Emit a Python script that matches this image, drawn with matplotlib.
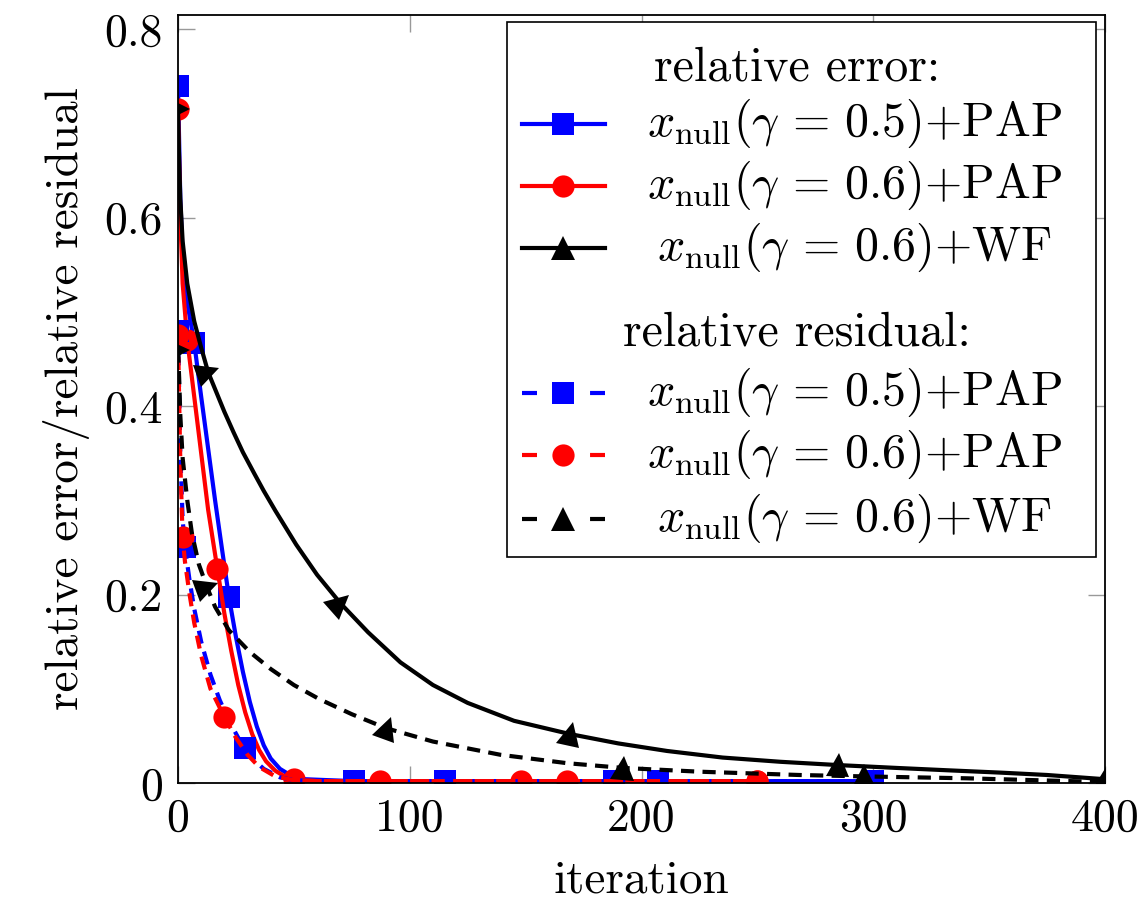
import matplotlib
matplotlib.use("Agg")
import matplotlib.pyplot as plt
import numpy as np
from matplotlib.markers import MarkerStyle
from matplotlib.transforms import Affine2D
from matplotlib.lines import Line2D
from matplotlib.patches import Rectangle

plt.rcParams["font.family"] = "serif"
plt.rcParams["font.serif"] = ["cmr10"]
plt.rcParams["mathtext.fontset"] = "cm"
plt.rcParams["axes.formatter.use_mathtext"] = True
plt.rcParams["lines.scale_dashes"] = False

# relative error, gamma=0.5 + PAP
it_err_05 = [0, 1, 2, 4, 7, 10, 13, 16, 19, 22, 25, 28, 31, 34, 37, 40, 44, 48, 55, 65, 76, 100, 150, 188, 250, 300]
err_05 = [0.74, 0.62, 0.56, 0.51, 0.467, 0.41, 0.355, 0.30, 0.248, 0.197, 0.155, 0.118, 0.086, 0.060, 0.040,
          0.026, 0.015, 0.009, 0.004, 0.003, 0.002, 0.002, 0.002, 0.002, 0.002, 0.002]
mk_err_05 = [0, 4, 9, 20, 23, 25]

# relative error, gamma=0.6 + PAP
it_err_06 = [0, 1, 2, 4, 7, 10, 13, 17, 20, 23, 26, 29, 32, 35, 38, 42, 46, 50, 60, 87, 120, 148, 200, 250]
err_06 = [0.715, 0.60, 0.53, 0.47, 0.41, 0.35, 0.29, 0.227, 0.18, 0.14, 0.104, 0.075, 0.052, 0.035, 0.023,
          0.013, 0.007, 0.004, 0.002, 0.002, 0.002, 0.002, 0.002, 0.002]
mk_err_06 = [0, 3, 7, 17, 21, 23]

# relative error, gamma=0.6 + WF
it_err_wf = [0, 0.5, 1, 2, 4, 7, 10, 13, 17, 20, 24, 28, 33, 37, 42, 51, 60, 70, 82, 96, 110, 125, 145, 169,
             190, 211, 235, 260, 285, 310, 332, 355, 375, 400]
err_wf = [0.715, 0.66, 0.62, 0.575, 0.53, 0.49, 0.462, 0.436, 0.412, 0.394, 0.372, 0.351, 0.328, 0.310, 0.289,
          0.253, 0.221, 0.191, 0.160, 0.128, 0.104, 0.085, 0.066, 0.052, 0.042, 0.034, 0.027, 0.0225, 0.019,
          0.016, 0.0135, 0.011, 0.0085, 0.004]
mk_err_wf = [0, 7, 17, 23, 28, 33]

# relative residual, gamma=0.5 + PAP
it_res_05 = [0, 1, 2, 3, 5, 7, 10, 14, 18, 22, 26, 29, 33, 37, 44, 50, 60, 115, 150, 207, 250, 300]
res_05 = [0.48, 0.35, 0.28, 0.25, 0.215, 0.185, 0.15, 0.115, 0.088, 0.066, 0.048, 0.037, 0.024, 0.015,
          0.006, 0.003, 0.002, 0.002, 0.002, 0.002, 0.002, 0.002]
mk_res_05 = [0, 3, 11, 17, 19, 21]

# relative residual, gamma=0.6 + PAP
it_res_06 = [0, 1, 2, 3, 5, 7, 10, 14, 20, 25, 30, 35, 42, 50, 60, 87, 120, 168, 200, 250]
res_06 = [0.475, 0.34, 0.261, 0.235, 0.20, 0.17, 0.135, 0.10, 0.07, 0.048, 0.03, 0.017, 0.007, 0.003,
          0.002, 0.002, 0.002, 0.002, 0.002, 0.002]
mk_res_06 = [0, 2, 8, 15, 17, 19]

# relative residual, gamma=0.6 + WF
it_res_wf = [0, 0.5, 1, 2, 4, 6, 9, 12.5, 16, 22, 31, 40, 50, 61, 75, 90, 110, 139, 168, 192, 225, 268,
             296, 340, 400]
res_wf = [0.46, 0.43, 0.39, 0.345, 0.30, 0.265, 0.232, 0.208, 0.187, 0.162, 0.139, 0.121, 0.104, 0.089,
          0.073, 0.058, 0.044, 0.030, 0.021, 0.016, 0.012, 0.0085, 0.007, 0.005, 0.001]
mk_res_wf = [0, 7, 15, 19, 22, 24]

xticks = [0, 100, 200, 300, 400]
xticklabels = ["0", "100", "200", "300", "400"]
yticks = [0, 0.2, 0.4, 0.6, 0.8]
yticklabels = ["0", "0.2", "0.4", "0.6", "0.8"]

labels = [r"$x_{\mathrm{null}}(\gamma\,=\,0.5)$+PAP",
          r"$x_{\mathrm{null}}(\gamma\,=\,0.6)$+PAP",
          r"$x_{\mathrm{null}}(\gamma\,=\,0.6)$+WF"]

W, H = 1143, 902
fig = plt.figure(figsize=(W / 100, H / 100), dpi=100)
ax = fig.add_axes([178 / W, 1 - 783 / H, 927 / W, 768 / H])
ax.set_xlim(0, 400)
ax.set_ylim(0, 0.815)

LW = 3.0
DASH = (9.5, 6.0)
blue, red, black = "#0000ff", "#ff0000", "#000000"


def draw(x, y, color, dashed, marker, idx, ms):
    ls = "--" if dashed else "-"
    line, = ax.plot(x, y, color=color, lw=LW, ls=ls, solid_capstyle="round")
    if dashed:
        line.set_dashes(DASH)
    if marker != "^":
        ax.plot([x[i] for i in idx], [y[i] for i in idx], ls="none", marker=marker,
                ms=ms, color=color, mec=color, mew=0)
        return
    # triangles turned with the curve
    pts = ax.transData.transform(np.column_stack([x, y]))
    n = len(x)
    for i in idx:
        a, b = max(i - 1, 0), min(i + 1, n - 1)
        d = pts[b] - pts[a]
        ang = np.degrees(np.arctan2(d[1], d[0]))
        m = MarkerStyle("^", transform=Affine2D().rotate_deg(ang))
        ax.plot([x[i]], [y[i]], ls="none", marker=m, ms=ms, color=color, mec=color, mew=0)


draw(it_err_05, err_05, blue, False, "s", mk_err_05, 16)
draw(it_err_06, err_06, red, False, "o", mk_err_06, 16)
draw(it_err_wf, err_wf, black, False, "^", mk_err_wf, 17)
draw(it_res_05, res_05, blue, True, "s", mk_res_05, 16)
draw(it_res_06, res_06, red, True, "o", mk_res_06, 16)
draw(it_res_wf, res_wf, black, True, "^", mk_res_wf, 17)

ax.set_xticks(xticks)
ax.set_xticklabels(xticklabels)
ax.set_yticks(yticks)
ax.set_yticklabels(yticklabels)
ax.tick_params(direction="in", length=12, width=1, color="0.6", top=True, right=True,
               labelsize=33, pad=11)
for s in ax.spines.values():
    s.set_linewidth(1.3)
ax.set_xlabel("iteration", fontsize=34, labelpad=14)
ax.set_ylabel("relative error/relative residual", fontsize=34, labelpad=10)

# legend box drawn by hand (pgfplots style with centred headers)
def fx(px):
    return (px - 178) / 927


def fy(py):
    return (783 - py) / 768


ax.add_patch(Rectangle((fx(507), fy(557)), fx(1096) - fx(507), fy(22) - fy(557),
                       transform=ax.transAxes, facecolor="white", edgecolor="black",
                       lw=1.2, zorder=5, clip_on=False))
ax.text(fx(797), fy(68), "relative error:", transform=ax.transAxes, fontsize=34.5,
        ha="center", va="center", zorder=6)
ax.text(fx(797), fy(333), "relative residual:", transform=ax.transAxes, fontsize=34.5,
        ha="center", va="center", zorder=6)

rows = [124, 186, 248, 393, 455, 519]
styles = [(blue, "s", False), (red, "o", False), (black, "^", False),
          (blue, "s", True), (red, "o", True), (black, "^", True)]
for k, (py, (c, mk, dashed)) in enumerate(zip(rows, styles)):
    ln = Line2D([fx(522), fx(605)], [fy(py), fy(py)], transform=ax.transAxes, color=c, lw=LW,
                zorder=6, clip_on=False)
    if dashed:
        ln.set_dashes((10.8, 38.2))
    ax.add_line(ln)
    ax.add_line(Line2D([fx(563)], [fy(py)], transform=ax.transAxes, ls="none", marker=mk,
                       ms=16 if mk != "^" else 17, color=c, mew=0, zorder=7, clip_on=False))
    ax.text(fx(855), fy(py + 12), labels[k % 3], transform=ax.transAxes, fontsize=34.5,
            ha="center", va="baseline", zorder=6)

fig.savefig("out.png", dpi=100)
